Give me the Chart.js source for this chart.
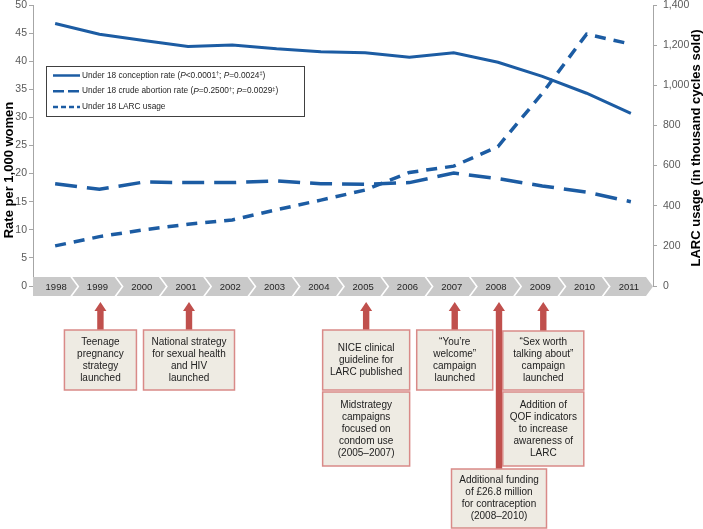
<!DOCTYPE html>
<html>
<head>
<meta charset="utf-8">
<script src="https://cdn.jsdelivr.net/npm/chart.js@4.4.1/dist/chart.umd.min.js"></script>
<style>
  html, body { margin: 0; padding: 0; background: #fff; }
</style>
</head>
<body>
<canvas id="chart" width="703" height="529"></canvas>
<script>
// data
const years = ["1998", "1999", "2000", "2001", "2002", "2003", "2004", "2005", "2006", "2007", "2008", "2009", "2010", "2011"];
const conceptionRate = [46.7, 44.8, 43.7, 42.6, 42.9, 42.2, 41.7, 41.5, 40.7, 41.5, 39.8, 37.3, 34.3, 30.7];
const abortionRate = [18.2, 17.2, 18.5, 18.4, 18.4, 18.7, 18.2, 18.1, 18.4, 20.1, 19.1, 17.8, 16.7, 15.0];
const larcUsage = [200, 246, 280, 308, 329, 380, 428, 478, 566, 597, 695, 960, 1255, 1205];

const legendRows = [
  [["Under 18 conception rate (", "n"], ["P", "i"], ["<0.0001", "n"], ["\u2020", "s"], ["; ", "n"], ["P", "i"], ["=0.0024", "n"], ["\u2021", "s"], [")", "n"]],
  [["Under 18 crude abortion rate (", "n"], ["P", "i"], ["=0.2500", "n"], ["\u2020", "s"], ["; ", "n"], ["P", "i"], ["=0.0029", "n"], ["\u2021", "s"], [")", "n"]],
  [["Under 18 LARC usage", "n"]]
];

const events = [
  { year: "1999", text: ["Teenage", "pregnancy", "strategy", "launched"] },
  { year: "2001", text: ["National strategy", "for sexual health", "and HIV", "launched"] },
  { year: "2005", text: ["NICE clinical", "guideline for", "LARC published"] },
  { year: "2005", text: ["Midstrategy", "campaigns", "focused on", "condom use", "(2005\u20132007)"] },
  { year: "2007", text: ["\u201cYou\u2019re", "welcome\u201d", "campaign", "launched"] },
  { year: "2008", text: ["Additional funding", "of \u00a326.8 million", "for contraception", "(2008\u20132010)"] },
  { year: "2009", text: ["\u201cSex worth", "talking about\u201d", "campaign", "launched"] },
  { year: "2009", text: ["Addition of", "QOF indicators", "to increase", "awareness of", "LARC"] }
];

const FONT = '"Liberation Sans", Arial, sans-serif';
const BLUE = "#1c5ca3";
const RED = "#c0504d";

// box sizes for each event, same order as events
const boxLayout = [
  { w: 72, top: 330, bottom: 390, arrow: true },
  { w: 91, top: 330, bottom: 390, arrow: true },
  { w: 87, top: 330, bottom: 390, arrow: true },
  { w: 87, top: 392, bottom: 466, arrow: false },
  { w: 76, top: 330, bottom: 390, arrow: true },
  { w: 95, top: 469, bottom: 528, arrow: true },
  { w: 81, top: 331, bottom: 390, arrow: true },
  { w: 81, top: 392, bottom: 466, arrow: false }
];

function drawArrow(ctx, x, yTop, yBottom) {
  ctx.fillStyle = RED;
  ctx.beginPath();
  ctx.moveTo(x, yTop);
  ctx.lineTo(x + 6, yTop + 9);
  ctx.lineTo(x + 3.2, yTop + 9);
  ctx.lineTo(x + 3.2, yBottom);
  ctx.lineTo(x - 3.2, yBottom);
  ctx.lineTo(x - 3.2, yTop + 9);
  ctx.lineTo(x - 6, yTop + 9);
  ctx.closePath();
  ctx.fill();
}

// keep the plot area where the figure has it, labels may overhang
function fixAxis(width) {
  return (s) => {
    s.width = width;
    s.paddingTop = 0;
    s.paddingBottom = 0;
  };
}

const extras = {
  id: "extras",
  afterDraw(chart) {
    const ctx = chart.ctx;
    const area = chart.chartArea;
    const xs = chart.scales.x;
    ctx.save();

    // axis titles
    ctx.fillStyle = "#000";
    ctx.font = "bold 13px " + FONT;
    ctx.textAlign = "center";
    ctx.textBaseline = "middle";
    ctx.save();
    ctx.translate(9, 170);
    ctx.rotate(-Math.PI / 2);
    ctx.fillText("Rate per 1,000 women", 0, 0);
    ctx.restore();
    ctx.save();
    ctx.translate(696, 148);
    ctx.rotate(-Math.PI / 2);
    ctx.fillText("LARC usage (in thousand cycles sold)", 0, 0);
    ctx.restore();

    // timeline chevrons
    const n = years.length;
    const w = (area.right - area.left) / n;
    const top = area.bottom - 9, bot = area.bottom + 10, mid = (top + bot) / 2;
    const d = 7, g = 2;
    for (let i = 0; i < n; i++) {
      const b0 = area.left + i * w, b1 = b0 + w;
      ctx.fillStyle = "#c9c9c9";
      ctx.beginPath();
      if (i === 0) {
        ctx.moveTo(b0, top);
      } else {
        ctx.moveTo(b0 - d + g, top);
      }
      ctx.lineTo(b1 - d, top);
      ctx.lineTo(b1, mid);
      ctx.lineTo(b1 - d, bot);
      if (i === 0) {
        ctx.lineTo(b0, bot);
      } else {
        ctx.lineTo(b0 - d + g, bot);
        ctx.lineTo(b0 + g, mid);
      }
      ctx.closePath();
      ctx.fill();
      ctx.fillStyle = "#262626";
      ctx.font = "9.5px " + FONT;
      ctx.textAlign = "center";
      ctx.textBaseline = "middle";
      ctx.fillText(years[i], b0 + w / 2 - (i === 0 ? -1 : 2), mid + 1);
    }

    // arrows and boxes
    events.forEach((ev, k) => {
      const lay = boxLayout[k];
      const cx = xs.getPixelForValue(years.indexOf(ev.year)) + 1;
      if (lay.arrow) drawArrow(ctx, cx, bot + 6, lay.top);
      const x0 = cx - lay.w / 2;
      ctx.fillStyle = "#eeebe3";
      ctx.fillRect(x0, lay.top, lay.w, lay.bottom - lay.top);
      ctx.strokeStyle = "#d98a88";
      ctx.lineWidth = 1.5;
      ctx.strokeRect(x0, lay.top, lay.w, lay.bottom - lay.top);
      ctx.fillStyle = "#222";
      ctx.font = "10px " + FONT;
      ctx.textAlign = "center";
      ctx.textBaseline = "middle";
      const lh = 12;
      const yc = (lay.top + lay.bottom) / 2;
      const y0 = yc - (ev.text.length - 1) * lh / 2;
      ev.text.forEach((t, j) => ctx.fillText(t, cx, y0 + j * lh));
    });

    // legend
    const lx = 46, ly = 66, lw = 258, lhgt = 50;
    ctx.fillStyle = "#fff";
    ctx.fillRect(lx, ly, lw, lhgt);
    ctx.strokeStyle = "#404040";
    ctx.lineWidth = 1;
    ctx.strokeRect(lx + 0.5, ly + 0.5, lw, lhgt);
    const dashes = [[], [11, 4], [5, 3]];
    legendRows.forEach((row, r) => {
      const yy = ly + 9.5 + r * 15.7;
      ctx.strokeStyle = BLUE;
      ctx.lineWidth = 2.5;
      ctx.setLineDash(dashes[r]);
      ctx.beginPath();
      ctx.moveTo(53, yy);
      ctx.lineTo(80, yy);
      ctx.stroke();
      ctx.setLineDash([]);
      let x = 82;
      ctx.fillStyle = "#262626";
      ctx.textAlign = "left";
      ctx.textBaseline = "middle";
      row.forEach(p => {
        let size = 8.3, dy = 0, style = "";
        if (p[1] === "i") style = "italic ";
        if (p[1] === "s") { size = 5.5; dy = -2; }
        ctx.font = style + size + "px " + FONT;
        ctx.fillText(p[0], x, yy + dy);
        x += ctx.measureText(p[0]).width;
      });
    });
    ctx.restore();
  }
};

const ctx = document.getElementById("chart").getContext("2d");
const myChart = new Chart(ctx, {
  type: "line",
  data: {
    labels: years,
    datasets: [
      {
        label: "Under 18 conception rate",
        data: conceptionRate,
        yAxisID: "y",
        borderColor: BLUE,
        borderWidth: 3,
        pointRadius: 0,
        tension: 0,
      },
      {
        label: "Under 18 crude abortion rate",
        data: abortionRate,
        yAxisID: "y",
        borderColor: BLUE,
        borderWidth: 3.5,
        borderDash: [22, 10],
        pointRadius: 0,
        tension: 0,
      },
      {
        label: "Under 18 LARC usage",
        data: larcUsage,
        yAxisID: "y1",
        borderColor: BLUE,
        borderWidth: 3.5,
        borderDash: [11, 8],
        pointRadius: 0,
        tension: 0,
      },
    ],
  },
  options: {
    responsive: false,
    animation: false,
    layout: {
      padding: { top: 5, bottom: 243, left: 0, right: 0 },
    },
    plugins: {
      legend: { display: false },
      tooltip: { enabled: false },
    },
    scales: {
      x: {
        display: false,
        offset: true,
      },
      y: {
        position: "left",
        min: 0,
        max: 50,
        afterFit: fixAxis(33),
        ticks: { stepSize: 5, color: "#595959", font: { size: 10.5, family: FONT }, padding: 2 },
        grid: { drawOnChartArea: false, drawTicks: true, tickLength: 4, color: "#a6a6a6" },
        border: { color: "#a6a6a6" },
      },
      y1: {
        position: "right",
        min: 0,
        max: 1400,
        afterFit: fixAxis(50),
        ticks: {
          stepSize: 200,
          color: "#595959",
          font: { size: 10.5, family: FONT },
          padding: 6,
          callback: (v) => v.toLocaleString("en-US"),
        },
        grid: { drawOnChartArea: false, drawTicks: true, tickLength: 4, color: "#a6a6a6" },
        border: { color: "#a6a6a6" },
      },
    },
  },
  plugins: [extras],
});
</script>
</body>
</html>
